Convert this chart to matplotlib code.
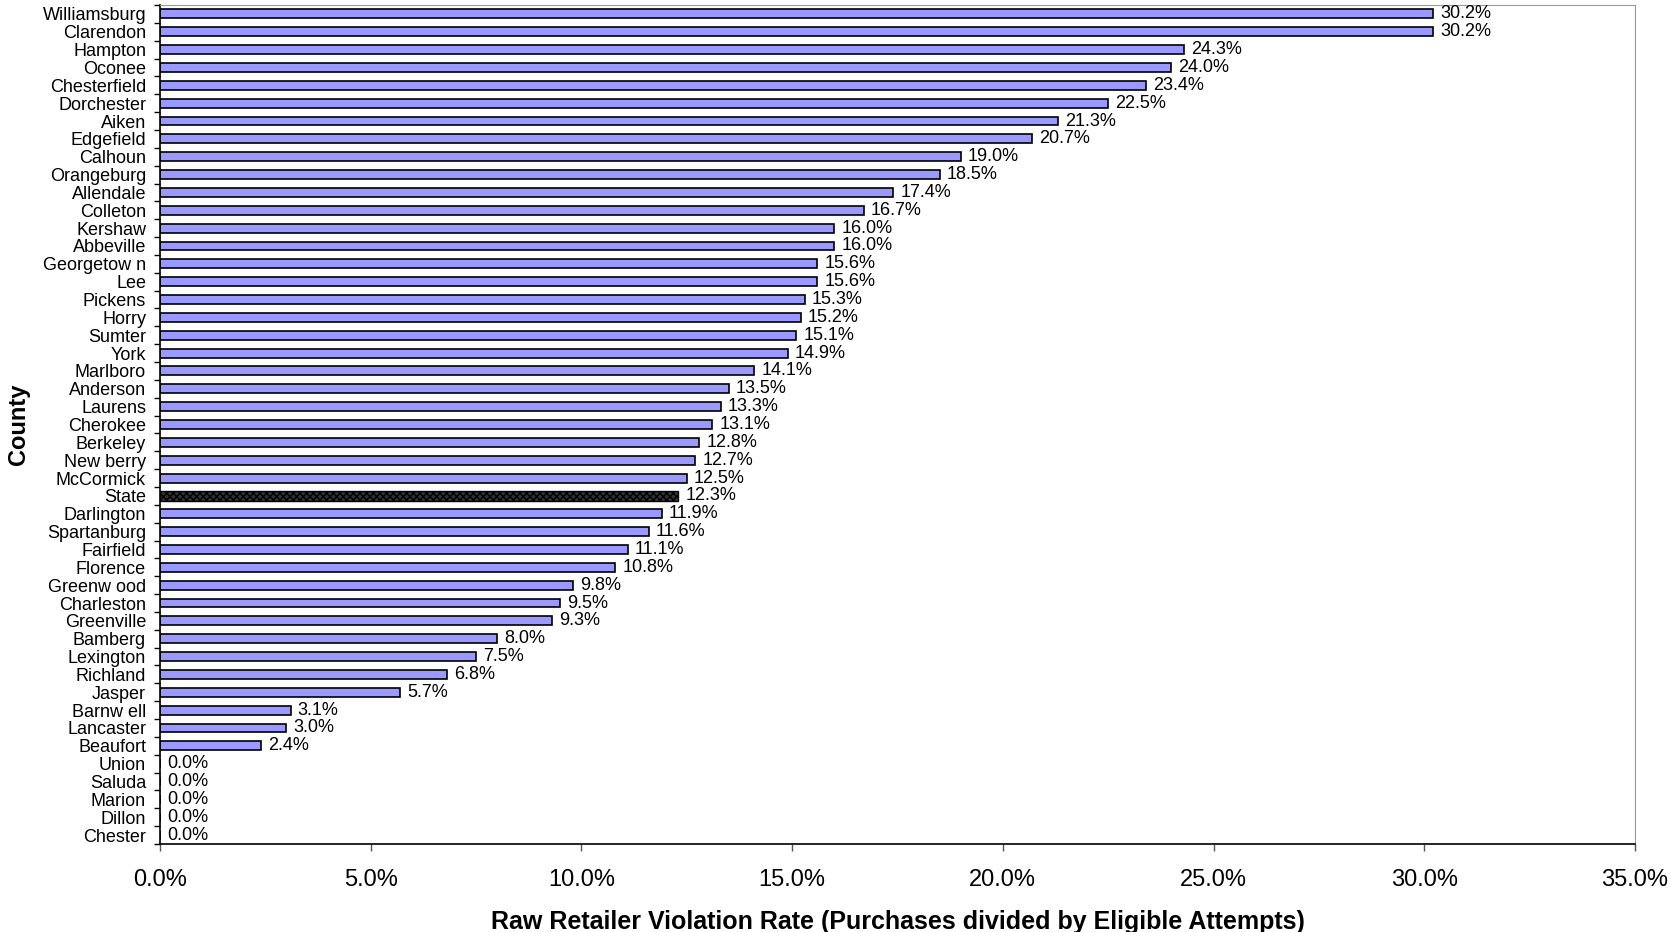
import matplotlib.pyplot as plt
from matplotlib.ticker import FuncFormatter, FixedLocator

plt.rcParams['font.family'] = ['Liberation Sans', 'DejaVu Sans']

# counties, top to bottom as in the chart
counties = ["Williamsburg", "Clarendon", "Hampton", "Oconee", "Chesterfield",
            "Dorchester", "Aiken", "Edgefield", "Calhoun", "Orangeburg",
            "Allendale", "Colleton", "Kershaw", "Abbeville", "Georgetow n",
            "Lee", "Pickens", "Horry", "Sumter", "York", "Marlboro",
            "Anderson", "Laurens", "Cherokee", "Berkeley", "New berry",
            "McCormick", "State", "Darlington", "Spartanburg", "Fairfield",
            "Florence", "Greenw ood", "Charleston", "Greenville", "Bamberg",
            "Lexington", "Richland", "Jasper", "Barnw ell", "Lancaster",
            "Beaufort", "Union", "Saluda", "Marion", "Dillon", "Chester"]
rates = [30.2, 30.2, 24.3, 24.0, 23.4, 22.5, 21.3, 20.7, 19.0, 18.5,
         17.4, 16.7, 16.0, 16.0, 15.6, 15.6, 15.3, 15.2, 15.1, 14.9, 14.1,
         13.5, 13.3, 13.1, 12.8, 12.7, 12.5, 12.3, 11.9, 11.6, 11.1,
         10.8, 9.8, 9.5, 9.3, 8.0, 7.5, 6.8, 5.7, 3.1, 3.0,
         2.4, 0.0, 0.0, 0.0, 0.0, 0.0]

fig = plt.figure(figsize=(16.71, 9.32), dpi=100)
ax = fig.add_axes([160 / 1671, 1 - 844 / 932, (1635 - 160) / 1671, (844 - 5) / 932])

ypos = list(range(len(counties)))
for i, (name, val) in enumerate(zip(counties, rates)):
    if name == "State":
        ax.barh(i, val, height=0.55, color="#333333", edgecolor="black",
                hatch="xxxxx", linewidth=1.0)
    else:
        ax.barh(i, val, height=0.5, color="#9999FF", edgecolor="black",
                linewidth=1.2)
    ax.text(val + 0.17, i, "%.1f%%" % val, va="center", ha="left", fontsize=13)

ax.set_ylim(len(counties) - 0.5, -0.5)
ax.set_xlim(0, 35)
ax.set_yticks(ypos)
ax.set_yticklabels(counties, fontsize=13)
ax.tick_params(axis="y", length=0, pad=10)
# tick marks between categories
ax.yaxis.set_minor_locator(FixedLocator([y + 0.5 for y in range(-1, len(counties))]))
ax.tick_params(axis="y", which="minor", length=4, width=1)

ax.set_xticks([0, 5, 10, 15, 20, 25, 30, 35])
ax.xaxis.set_major_formatter(FuncFormatter(lambda v, p: "%.1f%%" % v))
ax.tick_params(axis="x", length=5, width=1, labelsize=17, pad=13, color="#555555")

ax.spines["top"].set_color("#999999")
ax.spines["right"].set_color("#999999")
ax.spines["left"].set_linewidth(1.2)
ax.spines["bottom"].set_linewidth(1.2)

ax.set_xlabel("Raw Retailer Violation Rate (Purchases divided by Eligible Attempts)",
              fontsize=18, fontweight="bold", labelpad=14)
ax.set_ylabel("County", fontsize=17, fontweight="bold")
ax.yaxis.set_label_coords(-0.088, 0.5)

fig.savefig("out.png", dpi=100)
